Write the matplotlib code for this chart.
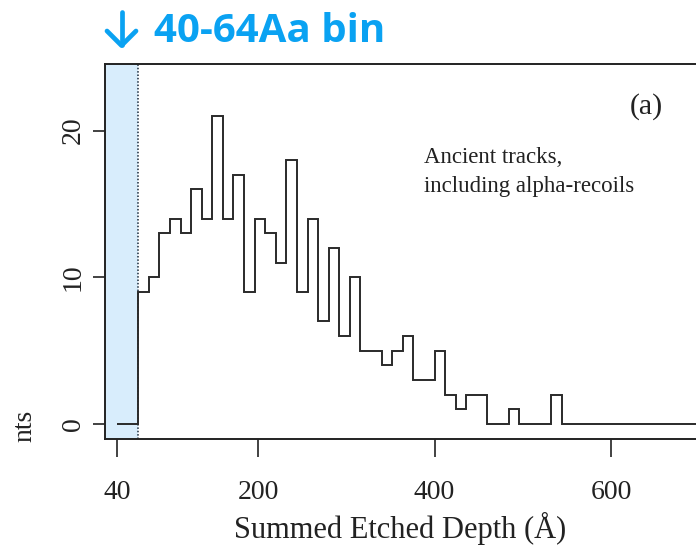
import matplotlib.pyplot as plt
from matplotlib.lines import Line2D
import numpy as np

# Summed etched depth histogram, 12 A bins above the 40-64 A bin
first_bin = [40, 64]
first_count = 0
bin_start = 64
bin_width = 12
counts = [9, 10, 13, 14, 13, 16, 14, 21, 14, 17,
          9, 14, 13, 11, 18, 9, 14, 7, 12, 6,
          10, 5, 5, 4, 5, 6, 3, 3, 5, 2,
          1, 2, 2, 0, 0, 1, 0, 0, 0, 2,
          0, 0, 0, 0, 0, 0, 0, 0, 0, 0,
          0, 0, 0, 0, 0, 0, 0]
x_ticks = [40, 200, 400, 600]
y_ticks = [0, 10, 20]
shade_hi = 64

W, H = 696, 550


def fx(px):
    return px / W


def fy(py):
    return 1 - py / H


plt.rcParams["font.family"] = ["Liberation Serif", "DejaVu Serif"]

fig = plt.figure(figsize=(W / 100, H / 100), dpi=100)
ax_l, ax_r, ax_t, ax_b = 105, 740, 64.3, 439.3
ax = fig.add_axes([fx(ax_l), fy(ax_b), (ax_r - ax_l) / W, (ax_b - ax_t) / H])

edges = np.concatenate([[first_bin[0]], bin_start + bin_width * np.arange(len(counts) + 1)])
values = np.concatenate([[first_count], counts])

ax.set_xlim(26.3, 746.3)
ax.set_ylim(-1.04, 24.52)

# highlighted first bin
ax.axvspan(ax.get_xlim()[0], shade_hi, color="#d8edfc", zorder=0, lw=0)
ax.axvline(shade_hi, color="#1a2a3a", ls=(0, (1, 1.2)), lw=1.1, zorder=1)

ax.stairs(values, edges, color="#2a2a2a", lw=1.4, baseline=0, zorder=2)

for s in ax.spines.values():
    s.set_linewidth(1.4)
    s.set_color("#222222")

ax.set_xticks(x_ticks)
ax.set_xticklabels([str(t) for t in x_ticks])
ax.set_yticks(y_ticks)
ax.set_yticklabels([str(t) for t in y_ticks])
ax.tick_params(axis="x", direction="out", length=13, width=1.2, pad=16,
               labelsize=20, colors="#222222")
ax.tick_params(axis="y", direction="out", length=9, width=1.2, pad=5,
               labelsize=20, colors="#222222", labelrotation=90)
for lab in ax.get_yticklabels():
    lab.set_verticalalignment("center")

fig.text(fx(400), fy(538), "Summed Etched Depth (Å)", ha="center", va="baseline",
         fontsize=22, color="#222222")
fig.text(fx(25), fy(426), "nts", rotation=90, ha="center", va="center",
         fontsize=20, color="#222222")

fig.text(fx(663), fy(114), "(a)", ha="right", va="baseline", fontsize=21.5, color="#222222")
fig.text(fx(424), fy(163), "Ancient tracks,", ha="left", va="baseline",
         fontsize=16.5, color="#222222")
fig.text(fx(424), fy(192), "including alpha-recoils", ha="left", va="baseline",
         fontsize=16.5, color="#222222")

# down arrow pointing at the shaded bin, then its caption
blue = "#0aa2f2"
arrow_style = dict(color=blue, lw=3.4, solid_capstyle="round",
                   solid_joinstyle="round", transform=fig.transFigure)
fig.add_artist(Line2D([fx(121.5), fx(121.5)], [fy(12), fy(45)], **arrow_style))
fig.add_artist(Line2D([fx(107), fx(121.5), fx(136)], [fy(31), fy(45.5), fy(31)],
                      **arrow_style))
fig.text(fx(154), fy(42), "40-64Aa bin", ha="left", va="baseline",
         fontsize=29, fontweight="bold", color=blue,
         family=["Open Sans", "DejaVu Sans"])

fig.savefig("out.png", dpi=100)
